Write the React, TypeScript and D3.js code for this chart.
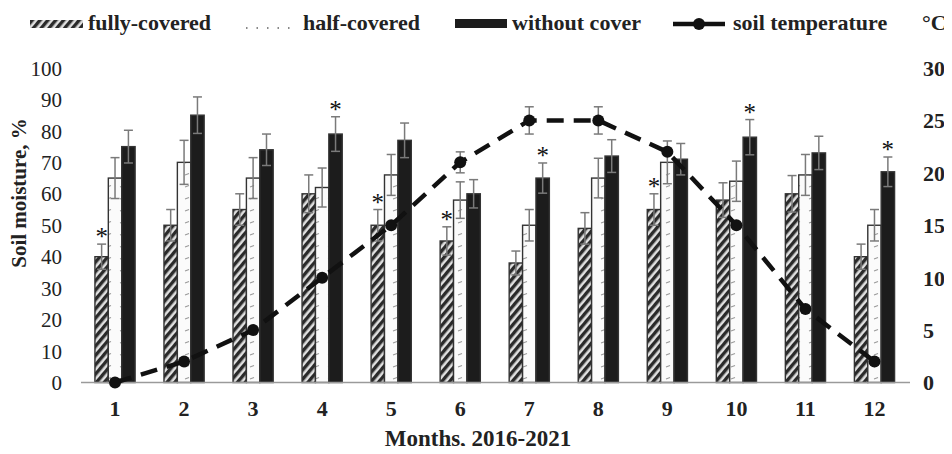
import React, { useRef, useEffect } from 'react';
import * as d3 from 'd3';

const months = ['1', '2', '3', '4', '5', '6', '7', '8', '9', '10', '11', '12'];
const fullyCovered = [40, 50, 55, 60, 50, 45, 38, 49, 55, 58, 60, 40];
const fullyErr = [4, 5, 5, 6, 5, 4.5, 3.8, 5, 5, 5.5, 5.8, 4];
const halfCovered = [65, 70, 65, 62, 66, 58, 50, 65, 70, 64, 66, 50];
const halfErr = [6.5, 7, 6.5, 6.2, 6.5, 5.8, 5, 6.3, 6.8, 6.4, 6.5, 5];
const withoutCover = [75, 85, 74, 79, 77, 60, 65, 72, 71, 78, 73, 67];
const withoutErr = [5.2, 5.8, 5, 5.5, 5.5, 4.5, 4.8, 5.2, 5, 5.6, 5.3, 4.7];
const soilTemp = [0, 2, 5, 10, 15, 21, 25, 25, 22, 15, 7, 2];
const tempErr = [0, 0, 0, 0, 0, 1, 1.3, 1.3, 0, 0, 0, 0];
const leftTicks = [0, 10, 20, 30, 40, 50, 60, 70, 80, 90, 100];
const rightTicks = [0, 5, 10, 15, 20, 25, 30];
// month index, series index (0 fully, 1 half, 2 without)
const stars = [[0, 0], [3, 2], [4, 0], [5, 0], [6, 2], [8, 0], [9, 2], [11, 2]];

const FONT = 'Liberation Serif, DejaVu Serif, serif';

const Chart = () => {
  const ref = useRef(null);

  useEffect(() => {
    const svg = d3.select(ref.current);
    svg.selectAll('*').remove();

    const defs = svg.append('defs');
    const hatch = defs.append('pattern')
      .attr('id', 'hatch')
      .attr('patternUnits', 'userSpaceOnUse')
      .attr('width', 6).attr('height', 6)
      .attr('patternTransform', 'rotate(40)');
    hatch.append('rect').attr('width', 6).attr('height', 6).attr('fill', '#e0e0e0');
    hatch.append('rect').attr('width', 3.4).attr('height', 6).attr('fill', '#2a2a2a');

    const dots = defs.append('pattern')
      .attr('id', 'dots')
      .attr('patternUnits', 'userSpaceOnUse')
      .attr('width', 13).attr('height', 12);
    dots.append('rect').attr('width', 13).attr('height', 12).attr('fill', '#fbfbfb');
    dots.append('line')
      .attr('x1', 3).attr('x2', 7).attr('y1', 7).attr('y2', 5.5)
      .attr('stroke', '#9a9a9a').attr('stroke-width', 1.1);

    const x = d3.scaleBand().domain(months).range([80.5, 909]).paddingInner(0.418).paddingOuter(0.209);
    const xs = d3.scaleBand().domain(['0', '1', '2']).range([0, x.bandwidth()]);
    const y = d3.scaleLinear().domain([0, 100]).range([382.5, 68]);
    const y2 = d3.scaleLinear().domain([0, 30]).range([382.5, 68]);

    const series = [
      { vals: fullyCovered, err: fullyErr, fill: 'url(#hatch)' },
      { vals: halfCovered, err: halfErr, fill: 'url(#dots)' },
      { vals: withoutCover, err: withoutErr, fill: '#1c1c1c' },
    ];

    series.forEach((s, si) => {
      const g = svg.append('g');
      g.selectAll('rect').data(s.vals).enter().append('rect')
        .attr('x', (d, i) => x(months[i]) + xs(String(si)))
        .attr('y', (d) => y(d))
        .attr('width', xs.bandwidth())
        .attr('height', (d) => y(0) - y(d))
        .attr('fill', s.fill)
        .attr('stroke', '#333')
        .attr('stroke-width', 1.4);
    });

    series.forEach((s, si) => {
      const g = svg.append('g').attr('stroke', '#7a7a7a').attr('stroke-width', 1.5);
      s.vals.forEach((v, i) => {
        const cx = x(months[i]) + xs(String(si)) + xs.bandwidth() / 2;
        const e = s.err[i];
        g.append('line').attr('x1', cx).attr('x2', cx).attr('y1', y(v + e)).attr('y2', y(v - e));
        g.append('line').attr('x1', cx - 4.5).attr('x2', cx + 4.5).attr('y1', y(v + e)).attr('y2', y(v + e));
        g.append('line').attr('x1', cx - 4.5).attr('x2', cx + 4.5).attr('y1', y(v - e)).attr('y2', y(v - e));
      });
    });

    stars.forEach(([mi, si]) => {
      const s = series[si];
      const cx = x(months[mi]) + xs(String(si)) + xs.bandwidth() / 2;
      svg.append('text')
        .attr('x', cx).attr('y', y(s.vals[mi] + s.err[mi]) + 1)
        .attr('text-anchor', 'middle')
        .attr('font-family', FONT).attr('font-size', 25)
        .style('fill', '#111')
        .text('*');
    });

    // x axis line
    svg.append('line')
      .attr('x1', 81).attr('x2', 910).attr('y1', y(0)).attr('y2', y(0))
      .attr('stroke', '#9a9a9a').attr('stroke-width', 1.5);

    // temperature line
    const cxM = (i) => x(months[i]) + x.bandwidth() / 2;
    const line = d3.line().x((d, i) => cxM(i)).y((d) => y2(d));
    svg.append('path')
      .datum(soilTemp)
      .attr('fill', 'none')
      .attr('stroke', '#111')
      .attr('stroke-width', 4.5)
      .attr('stroke-dasharray', '17,10')
      .attr('d', line);

    const tg = svg.append('g').attr('stroke', '#7a7a7a').attr('stroke-width', 1.5);
    soilTemp.forEach((t, i) => {
      const e = tempErr[i];
      if (!e) return;
      const cx = cxM(i);
      tg.append('line').attr('x1', cx).attr('x2', cx).attr('y1', y2(t + e)).attr('y2', y2(t - e));
      tg.append('line').attr('x1', cx - 4.5).attr('x2', cx + 4.5).attr('y1', y2(t + e)).attr('y2', y2(t + e));
      tg.append('line').attr('x1', cx - 4.5).attr('x2', cx + 4.5).attr('y1', y2(t - e)).attr('y2', y2(t - e));
    });

    svg.append('g').selectAll('circle').data(soilTemp).enter().append('circle')
      .attr('cx', (d, i) => cxM(i))
      .attr('cy', (d) => y2(d))
      .attr('r', 6)
      .attr('fill', '#111');

    // left axis
    const yAxis = d3.axisLeft(y).tickValues(leftTicks).tickSize(0).tickPadding(0);
    const ly = svg.append('g').attr('transform', 'translate(62,0)').call(yAxis);
    ly.select('.domain').remove();
    ly.attr('font-family', FONT);
    ly.selectAll('text')
      .attr('font-size', 21).attr('fill', '#222')
      .attr('dy', '0.34em');

    // right axis
    const y2Axis = d3.axisRight(y2).tickValues(rightTicks).tickSize(0).tickPadding(0);
    const ry = svg.append('g').attr('transform', 'translate(923,0)').call(y2Axis);
    ry.select('.domain').remove();
    ry.attr('font-family', FONT);
    ry.selectAll('text')
      .attr('font-size', 22).attr('font-weight', 'bold').attr('fill', '#222')
      .attr('dy', '0.34em');

    // bottom axis labels
    const xAxis = d3.axisBottom(x).tickSize(0).tickPadding(0);
    const bx = svg.append('g').attr('transform', 'translate(0,400)').call(xAxis);
    bx.select('.domain').remove();
    bx.attr('font-family', FONT);
    bx.selectAll('text')
      .attr('font-size', 22).attr('font-weight', 'bold').attr('fill', '#222')
      .attr('dy', '0.71em');

    svg.append('text')
      .attr('x', 478).attr('y', 446)
      .attr('text-anchor', 'middle')
      .attr('font-family', FONT).attr('font-size', 23).attr('font-weight', 'bold').attr('fill', '#222')
      .text('Months, 2016-2021');

    svg.append('text')
      .attr('transform', 'translate(26,193) rotate(-90)')
      .attr('text-anchor', 'middle')
      .attr('font-family', FONT).attr('font-size', 21).attr('font-weight', 'bold').attr('fill', '#222')
      .text('Soil moisture, %');

    // legend
    const lg = svg.append('g').attr('font-family', FONT).attr('font-size', 22)
      .attr('font-weight', 'bold').attr('fill', '#222');
    lg.append('rect').attr('x', 30).attr('y', 20).attr('width', 53).attr('height', 8).attr('fill', 'url(#hatch)');
    lg.append('text').attr('x', 88).attr('y', 30).text('fully-covered');
    lg.append('line').attr('x1', 246).attr('x2', 297).attr('y1', 28).attr('y2', 28)
      .attr('stroke', '#888').attr('stroke-width', 2).attr('stroke-dasharray', '1.5,9');
    lg.append('text').attr('x', 303).attr('y', 30).text('half-covered');
    lg.append('rect').attr('x', 455).attr('y', 19).attr('width', 52).attr('height', 9).attr('fill', '#1c1c1c');
    lg.append('text').attr('x', 512).attr('y', 30).text('without cover');
    lg.append('line').attr('x1', 673).attr('x2', 725).attr('y1', 24).attr('y2', 24)
      .attr('stroke', '#111').attr('stroke-width', 4.5);
    lg.append('circle').attr('cx', 699).attr('cy', 24).attr('r', 6).attr('fill', '#111');
    lg.append('text').attr('x', 733).attr('y', 30).text('soil temperature');
    lg.append('text').attr('x', 922).attr('y', 30).text('°C');
  }, []);

  return <svg ref={ref} width={952} height={454} style={{ display: 'block' }}></svg>;
};

export default function App() {
  return (
    <div style={{ margin: -8, width: 952, height: 454, background: '#fff' }}>
      <Chart />
    </div>
  );
}
